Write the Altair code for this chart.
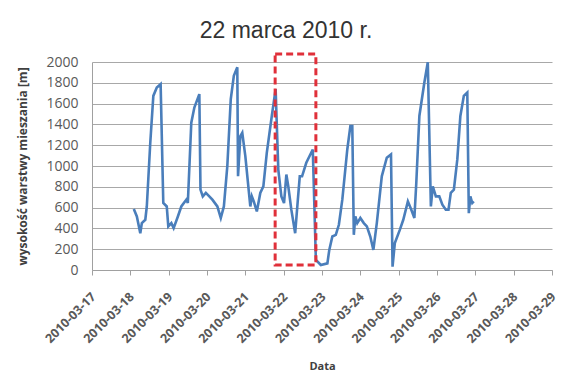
import altair as alt
import pandas as pd

times = [
    "2010-03-18T02:10", "2010-03-18T04:05", "2010-03-18T06:14", "2010-03-18T07:12",
    "2010-03-18T09:22", "2010-03-18T10:19", "2010-03-18T12:29", "2010-03-18T14:24",
    "2010-03-18T16:34", "2010-03-18T18:58", "2010-03-18T20:38", "2010-03-18T22:48",
    "2010-03-18T23:46", "2010-03-19T01:41", "2010-03-19T03:07", "2010-03-19T05:46",
    "2010-03-19T07:55", "2010-03-19T11:02", "2010-03-19T12:00", "2010-03-19T14:10",
    "2010-03-19T16:05", "2010-03-19T19:12", "2010-03-19T19:55", "2010-03-19T21:22",
    "2010-03-19T23:17", "2010-03-20T01:26", "2010-03-20T03:22", "2010-03-20T06:29",
    "2010-03-20T08:38", "2010-03-20T10:34", "2010-03-20T12:43", "2010-03-20T14:53",
    "2010-03-20T16:48", "2010-03-20T18:58", "2010-03-20T19:26", "2010-03-20T20:53",
    "2010-03-20T22:05", "2010-03-21T00:00", "2010-03-21T03:07", "2010-03-21T04:05",
    "2010-03-21T05:17", "2010-03-21T07:12", "2010-03-21T09:22", "2010-03-21T11:17",
    "2010-03-21T13:26", "2010-03-21T16:34", "2010-03-21T18:58", "2010-03-21T20:38",
    "2010-03-21T22:34", "2010-03-22T00:14", "2010-03-22T01:41", "2010-03-22T02:53",
    "2010-03-22T04:48", "2010-03-22T07:12", "2010-03-22T08:53", "2010-03-22T10:05",
    "2010-03-22T11:31", "2010-03-22T14:10", "2010-03-22T18:14", "2010-03-22T20:10",
    "2010-03-22T23:17", "2010-03-23T03:22", "2010-03-23T04:34", "2010-03-23T06:29",
    "2010-03-23T08:38", "2010-03-23T10:34", "2010-03-23T12:43", "2010-03-23T15:50",
    "2010-03-23T17:46", "2010-03-23T18:58", "2010-03-23T19:55", "2010-03-23T20:53",
    "2010-03-23T22:05", "2010-03-24T00:00", "2010-03-24T02:10", "2010-03-24T04:05",
    "2010-03-24T06:14", "2010-03-24T08:10", "2010-03-24T10:19", "2010-03-24T13:26",
    "2010-03-24T16:34", "2010-03-24T19:12", "2010-03-24T20:10", "2010-03-24T21:36",
    "2010-03-25T00:43", "2010-03-25T02:53", "2010-03-25T05:46", "2010-03-25T07:55",
    "2010-03-25T09:50", "2010-03-25T11:02", "2010-03-25T12:58", "2010-03-25T16:05",
    "2010-03-25T18:14", "2010-03-25T20:10", "2010-03-25T21:22", "2010-03-25T23:17",
    "2010-03-26T01:26", "2010-03-26T03:22", "2010-03-26T05:31", "2010-03-26T07:12",
    "2010-03-26T08:38", "2010-03-26T10:34", "2010-03-26T12:43", "2010-03-26T14:38",
    "2010-03-26T16:48", "2010-03-26T18:58", "2010-03-26T19:55", "2010-03-26T20:53",
    "2010-03-26T22:05", "2010-03-26T23:02",
]
heights = [
    586, 515, 354, 451,
    483, 611, 1224, 1674,
    1755, 1787, 644, 611,
    419, 451, 403, 515,
    611, 676, 644, 1417,
    1562, 1691, 773, 708,
    741, 708, 676, 611,
    500, 611, 998, 1643,
    1868, 1949, 901, 1288,
    1320, 1095, 611, 708,
    660, 563, 741, 805,
    1127, 1481, 1739, 966,
    708, 644, 918, 805,
    580, 354, 676, 901,
    901, 1031, 1159, 97,
    48, 64, 193, 322,
    338, 435, 676, 1159,
    1385, 1385, 338, 515,
    451, 500, 451, 419,
    322, 193, 451, 901,
    1079, 1111, 32, 258,
    386, 483, 660, 580,
    500, 837, 1481, 1803,
    1997, 611, 805, 708,
    708, 628, 580, 580,
    741, 773, 1063, 1481,
    1674, 1707, 547, 708,
    644, 660,
]

box_start = ["2010-03-21T18:40"]
box_end = ["2010-03-22T20:10"]
box_low = [48]
box_high = [2077]

tick_days = list(range(17, 30))
y_ticks = list(range(0, 2001, 200))

df = pd.DataFrame({"t": [s + "Z" for s in times], "h": heights})
box = pd.DataFrame({
    "t1": [s + "Z" for s in box_start],
    "t2": [s + "Z" for s in box_end],
    "y1": box_low,
    "y2": box_high,
})

x_scale = alt.Scale(
    type="utc",
    domain=[alt.DateTime(year=2010, month=3, date=17, utc=True),
            alt.DateTime(year=2010, month=3, date=29, utc=True)],
)
y_scale = alt.Scale(domain=[0, 2000], nice=False)

x_axis = alt.Axis(
    values=[alt.DateTime(year=2010, month=3, date=d, utc=True) for d in tick_days],
    format="%Y-%m-%d",
    labelAngle=-45,
    labelFont="Open Sans",
    labelFontSize=12.5,
    labelFontWeight="bold",
    labelColor="#595959",
    labelPadding=15,
    labelOffset=-3,
    labelOverlap=False,
    labelBound=False,
    labelFlush=False,
    tickSize=5,
    tickColor="#a0a0a0",
    domainColor="#a0a0a0",
    grid=False,
    title="Data",
    titleFont="Open Sans",
    titleFontSize=11,
    titleFontWeight="bold",
    titleColor="#404040",
    titlePadding=16,
)
y_axis = alt.Axis(
    values=y_ticks,
    format="d",
    labelOverlap=False,
    labelFlush=False,
    labelFont="Open Sans",
    labelFontSize=14,
    labelColor="#595959",
    labelPadding=14,
    ticks=False,
    domainColor="#a0a0a0",
    gridColor="#a8a8a8",
    title="wysokość warstwy mieszania [m]",
    titleFont="Open Sans",
    titleFontSize=12,
    titleFontWeight="bold",
    titleColor="#404040",
    titlePadding=16,
)

line = alt.Chart(df).mark_line(color="#4A7EBB", strokeWidth=2.6).encode(
    x=alt.X("t:T", scale=x_scale, axis=x_axis),
    y=alt.Y("h:Q", scale=y_scale, axis=y_axis),
)

rect = alt.Chart(box).mark_rect(
    fill="white", fillOpacity=0, stroke="#E0303A", strokeWidth=3, strokeDash=[7, 4]
).encode(
    x=alt.X("t1:T", scale=x_scale, axis=x_axis),
    x2="t2:T",
    y=alt.Y("y1:Q", scale=y_scale, axis=y_axis),
    y2="y2:Q",
)

chart = alt.layer(line, rect).properties(
    width=460,
    height=208,
    autosize=alt.AutoSizeParams(type="none"),
    padding={"left": 84, "top": 54, "right": 5, "bottom": 108},
    title=alt.TitleParams(
        "22 marca 2010 r.", font="Liberation Sans", fontSize=23,
        fontWeight="normal", color="#333333", anchor="middle", dx=-36, offset=9,
    ),
).configure_view(stroke=None)

chart.save("out.html", embed_options={"renderer": "svg", "actions": False})
